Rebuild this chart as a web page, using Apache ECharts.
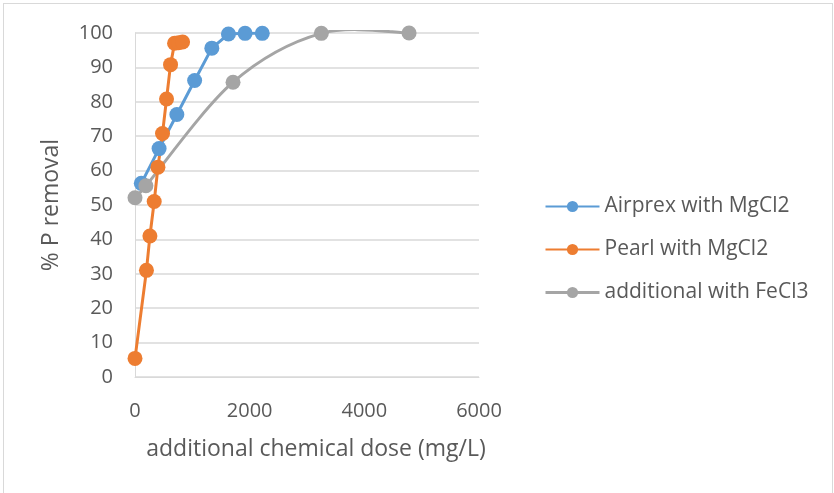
<!DOCTYPE html>
<html>
<head>
<meta charset="utf-8">
<script src="https://cdn.jsdelivr.net/npm/echarts@6/dist/echarts.min.js"></script>
<style>
  html, body { margin: 0; padding: 0; background: #fff; }
  #frame { position: absolute; left: 3px; top: 3px; width: 830px; height: 500px; border: 1px solid #d9d9d9; box-sizing: border-box; }
  #chart { width: 834px; height: 493px; position: absolute; left: 0; top: 0; }
</style>
</head>
<body>
<div id="frame"></div>
<div id="chart"></div>
<script>
// Phosphorus removal vs. additional chemical dose
const seriesNames = ['Airprex with MgCl2', 'Pearl with MgCl2', 'additional with FeCl3'];

const airprexDose = [110, 420, 730, 1040, 1340, 1630, 1920, 2220];
const airprexRemoval = [56.3, 66.4, 76.3, 86.2, 95.6, 99.7, 99.9, 99.9];

const pearlDose = [0, 200, 260, 335, 400, 480, 550, 620, 690, 760, 830];
const pearlRemoval = [5.4, 31.0, 41.0, 51.0, 61.0, 70.8, 80.8, 90.8, 97.0, 97.2, 97.4];

const fecl3Dose = [0, 190, 1710, 3250, 4780];
const fecl3Removal = [52.1, 55.6, 85.7, 99.9, 100];

const xTicks = { min: 0, max: 6000, interval: 2000 };
const yTicks = { min: 0, max: 100, interval: 10 };

const colors = ['#5B9BD5', '#ED7D31', '#A5A5A5'];
const textColor = '#595959';
const fontFamily = '"Open Sans", "Noto Sans", sans-serif';

function pairs(xs, ys) { return xs.map((x, i) => [x, ys[i]]); }

const chart = echarts.init(document.getElementById('chart'), null, { renderer: 'canvas' });

const lineSeries = (name, data, color, lineOpacity) => ({
  name, type: 'line', data,
  symbol: 'circle', symbolSize: 15,
  lineStyle: { color, width: 3, opacity: lineOpacity },
  itemStyle: { color, borderWidth: 0 },
  emphasis: { disabled: true },
  animation: false
});

// Smoothed FeCl3 curve: Catmull-Rom spline through the data points in pixel space,
// clipped just above the plotting area
function smoothCurve(params, api) {
  if (params.dataIndex !== 0) return null;
  const pts = fecl3Dose.map((x, i) => api.coord([x, fecl3Removal[i]]));
  const n = pts.length;
  let d = 'M' + pts[0][0] + ' ' + pts[0][1];
  for (let i = 0; i < n - 1; i++) {
    const p0 = pts[Math.max(i - 1, 0)];
    const p1 = pts[i];
    const p2 = pts[i + 1];
    const p3 = pts[Math.min(i + 2, n - 1)];
    const c1 = [p1[0] + (p2[0] - p0[0]) / 6, p1[1] + (p2[1] - p0[1]) / 6];
    const c2 = [p2[0] - (p3[0] - p1[0]) / 6, p2[1] - (p3[1] - p1[1]) / 6];
    d += ' C' + c1[0] + ' ' + c1[1] + ' ' + c2[0] + ' ' + c2[1] + ' ' + p2[0] + ' ' + p2[1];
  }
  const cs = params.coordSys;
  return {
    type: 'group',
    clipPath: { type: 'rect', shape: { x: cs.x, y: cs.y - 3, width: cs.width, height: cs.height + 3 } },
    children: [{
      type: 'path',
      shape: { pathData: d },
      style: { stroke: colors[2], lineWidth: 3, fill: null, lineCap: 'round', lineJoin: 'round' }
    }]
  };
}

chart.setOption({
  animation: false,
  color: colors,
  grid: { left: 135, right: 355, top: 33, bottom: 116, containLabel: false },
  xAxis: {
    type: 'value', min: xTicks.min, max: xTicks.max, interval: xTicks.interval,
    name: 'additional chemical dose (mg/L)', nameLocation: 'middle', nameGap: 61,
    nameTextStyle: { color: textColor, fontSize: 23, fontFamily, padding: [0, 0, 0, 18] },
    axisLine: { show: true, onZero: false, lineStyle: { color: '#d9d9d9', width: 1 } },
    axisTick: { show: false },
    axisLabel: { color: textColor, fontSize: 20, fontFamily, margin: 24, formatter: v => String(v) },
    splitLine: { show: false }
  },
  yAxis: {
    type: 'value', min: yTicks.min, max: yTicks.max, interval: yTicks.interval,
    name: '% P removal', nameLocation: 'middle', nameGap: 72,
    nameTextStyle: { color: textColor, fontSize: 23, fontFamily },
    axisLine: { show: true, lineStyle: { color: '#d9d9d9', width: 1 } },
    axisTick: { show: false },
    axisLabel: { color: textColor, fontSize: 20, fontFamily, margin: 22, formatter: v => String(v) },
    splitLine: { show: true, lineStyle: { color: '#d9d9d9', width: 1.5 } }
  },
  legend: {
    orient: 'vertical', left: 544, top: 196, padding: 0,
    itemWidth: 54, itemHeight: 14, itemGap: 22,
    textStyle: { color: textColor, fontSize: 21, fontFamily },
    data: [
      { name: seriesNames[0] },
      { name: seriesNames[1] },
      { name: seriesNames[2], lineStyle: { color: colors[2], width: 3, opacity: 1 } }
    ],
    selectedMode: false
  },
  series: [
    lineSeries(seriesNames[0], pairs(airprexDose, airprexRemoval), colors[0], 1),
    lineSeries(seriesNames[1], pairs(pearlDose, pearlRemoval), colors[1], 1),
    {
      type: 'custom', coordinateSystem: 'cartesian2d',
      data: pairs(fecl3Dose, fecl3Removal),
      encode: { x: 0, y: 1 },
      renderItem: smoothCurve,
      silent: true, animation: false
    },
    lineSeries(seriesNames[2], pairs(fecl3Dose, fecl3Removal), colors[2], 0)
  ]
});
</script>
</body>
</html>
